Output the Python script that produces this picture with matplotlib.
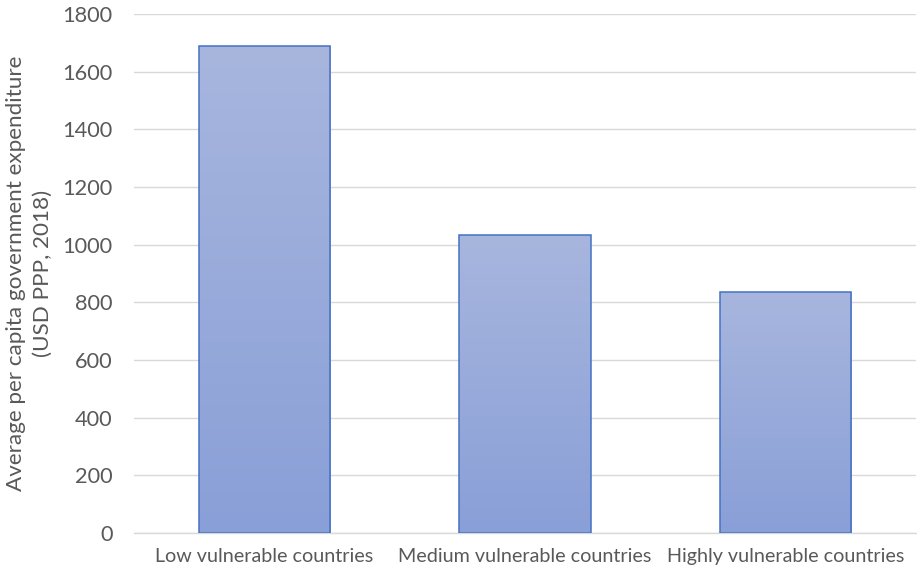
import matplotlib
matplotlib.use("Agg")
import matplotlib.pyplot as plt
import numpy as np
from matplotlib.colors import LinearSegmentedColormap

categories = ["Low vulnerable countries", "Medium vulnerable countries", "Highly vulnerable countries"]
values = [1689, 1035, 837]
yticks = [0, 200, 400, 600, 800, 1000, 1200, 1400, 1600, 1800]

plt.rcParams['font.family'] = ['Lato', 'DejaVu Sans']
txt = '#595959'

fig = plt.figure(figsize=(9.17, 5.72), dpi=100)
ax = fig.add_axes([0.1461, 0.0682, 0.8528, 0.9073])

x = np.arange(len(categories))
bars = ax.bar(x, values, width=0.503, facecolor='none', edgecolor='#4472C4', linewidth=1.1, zorder=3)

cmap = LinearSegmentedColormap.from_list('g', ['#899fd7', '#a8b6de'])
grad = np.linspace(0, 1, 256).reshape(-1, 1)
for b in bars:
    bx, by = b.get_x(), b.get_y()
    w, h = b.get_width(), b.get_height()
    im = ax.imshow(grad, extent=[bx, bx + w, by, by + h], origin='lower', cmap=cmap,
                   aspect='auto', zorder=2)
    im.set_clip_path(b)

ax.set_xlim(-0.5, 2.5)
ax.set_ylim(0, 1800)
ax.set_yticks(yticks)
ax.set_xticks(x)
ax.set_xticklabels(categories)
ax.grid(axis='y', color='#d9d9d9', linewidth=1.0, zorder=0)
ax.set_axisbelow(True)
for s in ['top', 'right', 'left']:
    ax.spines[s].set_visible(False)
ax.spines['bottom'].set_color('#d9d9d9')
ax.spines['bottom'].set_linewidth(1.0)
ax.tick_params(axis='both', length=0, labelcolor=txt)
ax.tick_params(axis='y', labelsize=15.7, pad=15.5)
ax.tick_params(axis='x', labelsize=14.2, pad=11)
ax.set_ylabel("Average per capita government expenditure\n(USD PPP, 2018)", fontsize=16.2,
              color=txt, labelpad=7, linespacing=1.38)

fig.savefig('out.png', dpi=100)
